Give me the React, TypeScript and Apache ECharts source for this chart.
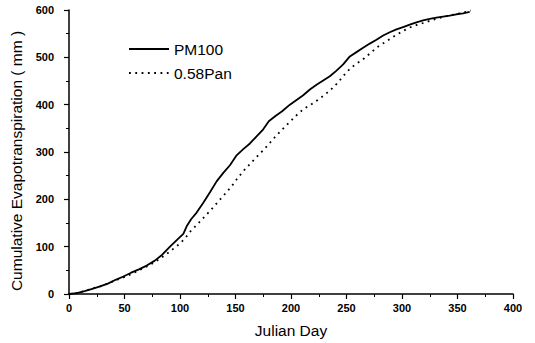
import React, { useEffect, useRef } from "react";
import * as echarts from "echarts";

const pmDays = [0, 7, 14, 21, 28, 35, 42, 49, 56, 63, 70, 77, 84, 91, 98, 103, 106, 110, 115, 121, 127, 133, 139, 145, 151, 157, 163, 169, 175, 180, 186, 192, 199, 205, 211, 217, 223, 229, 235, 241, 247, 253, 259, 265, 271, 277, 283, 289, 295, 301, 307, 313, 319, 325, 331, 337, 343, 349, 355, 361];
const pmValues = [0, 2, 6, 11, 16, 22, 30, 37, 45, 52, 60, 70, 83, 100, 116, 127, 143, 158, 172, 193, 215, 238, 256, 272, 293, 306, 318, 333, 348, 365, 376, 386, 400, 410, 420, 432, 442, 451, 460, 472, 485, 502, 511, 520, 529, 537, 546, 553, 559, 564, 569, 574, 578, 581, 584, 586, 588, 591, 593, 596];

const panDays = [0, 7, 14, 21, 28, 35, 42, 49, 56, 63, 70, 77, 84, 91, 98, 104, 110, 116, 122, 128, 134, 140, 146, 152, 158, 164, 170, 176, 182, 188, 194, 200, 206, 212, 218, 224, 230, 236, 242, 248, 254, 260, 266, 272, 278, 284, 290, 296, 302, 308, 314, 320, 326, 332, 338, 344, 350, 356, 362];
const panValues = [0, 2, 6, 12, 16, 22, 29, 35, 42, 50, 58, 67, 78, 90, 103, 116, 134, 148, 163, 178, 194, 210, 226, 245, 262, 277, 292, 306, 322, 338, 352, 366, 380, 392, 400, 410, 420, 432, 446, 463, 478, 488, 498, 510, 522, 531, 540, 549, 557, 564, 569, 573, 578, 582, 586, 589, 592, 595, 599];

const seriesNames = ["PM100", "0.58Pan"];
const xTitle = "Julian Day";
const yTitle = "Cumulative Evapotranspiration ( mm )";

export default function App() {
  const ref = useRef<HTMLDivElement>(null);
  useEffect(() => {
    if (!ref.current) return;
    const chart = echarts.init(ref.current, undefined, { renderer: "svg" });
    const font = "'Liberation Sans', Arial, Helvetica, sans-serif";
    const axisCommon = {
      axisLine: { show: true, lineStyle: { color: "#000", width: 1.5 } },
      axisTick: { show: true, length: 5, lineStyle: { color: "#000", width: 1.2 } },
      minorTick: { show: true, splitNumber: 2, length: 3, lineStyle: { color: "#000", width: 1 } },
      splitLine: { show: false },
    };
    chart.setOption({
      animation: false,
      backgroundColor: "#fff",
      grid: { left: 69, right: 22, top: 10, bottom: 47 },
      legend: {
        orient: "vertical",
        left: 123,
        top: 36,
        itemWidth: 40,
        itemHeight: 14,
        itemGap: 8,
        itemStyle: { color: "transparent", borderWidth: 0, opacity: 0 },
        textStyle: { color: "#000", fontSize: 15.5, fontFamily: font },
        data: seriesNames,
      },
      xAxis: {
        type: "value",
        min: 0,
        max: 400,
        interval: 50,
        name: xTitle,
        nameLocation: "middle",
        nameGap: 28,
        ...axisCommon,
        nameTextStyle: { color: "#000", fontSize: 15.5, fontFamily: font },
        axisLabel: { color: "#000", fontSize: 11, fontWeight: "bold", fontFamily: font, margin: 8 },
      },
      yAxis: {
        type: "value",
        min: 0,
        max: 600,
        interval: 100,
        name: yTitle,
        nameLocation: "middle",
        nameGap: 42,
        ...axisCommon,
        nameTextStyle: { color: "#000", fontSize: 15.5, fontFamily: font, padding: [0, 18, 0, 0] },
        axisLabel: { color: "#000", fontSize: 11, fontWeight: "bold", fontFamily: font, margin: 15 },
      },
      series: [
        {
          name: seriesNames[0],
          type: "line",
          data: pmDays.map((d, i) => [d, pmValues[i]]),
          symbol: "none",
          smooth: false,
          lineStyle: { color: "#000", width: 1.8, type: "solid" },
          itemStyle: { color: "#000" },
        },
        {
          name: seriesNames[1],
          type: "line",
          data: panDays.map((d, i) => [d, panValues[i]]),
          symbol: "none",
          smooth: false,
          lineStyle: { color: "#000", width: 1.8, type: [1.8, 4.5] },
          itemStyle: { color: "#000" },
        },
      ],
    });
    return () => chart.dispose();
  }, []);
  return (
    <div
      ref={ref}
      style={{ position: "fixed", left: 0, top: 0, width: 535, height: 343, background: "#fff" }}
    />
  );
}
